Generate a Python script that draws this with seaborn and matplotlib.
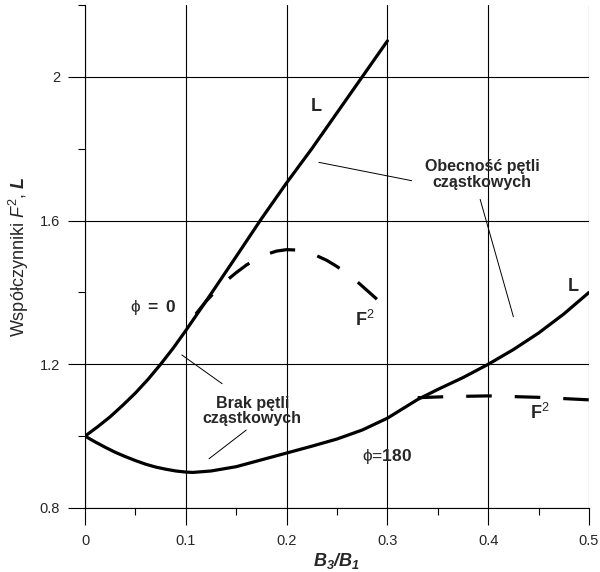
"""
Wspolczynniki F^2 i L w funkcji B3/B1 dla phi = 0 i phi = 180
"""

import numpy as np
import pandas as pd
import matplotlib.pyplot as plt
import seaborn as sns

# L, phi = 0
x_L0 = [0.0, 0.0125, 0.025, 0.0375, 0.05, 0.0625, 0.075, 0.0875, 0.1, 0.1125, 0.125,
        0.15, 0.175, 0.2, 0.225, 0.25, 0.275, 0.3]
y_L0 = [1.0, 1.026, 1.054, 1.086, 1.12, 1.158, 1.2, 1.245, 1.294, 1.345, 1.396,
        1.50, 1.605, 1.705, 1.80, 1.90, 2.0, 2.10]

# F^2, phi = 0
x_F0 = [0.11, 0.12, 0.13, 0.14, 0.15, 0.16, 0.17, 0.18, 0.19, 0.20, 0.21, 0.22, 0.23,
        0.24, 0.25, 0.26, 0.27, 0.28, 0.29, 0.30]
y_F0 = [1.34, 1.375, 1.405, 1.432, 1.455, 1.476, 1.493, 1.506, 1.515, 1.519, 1.518,
        1.512, 1.502, 1.489, 1.472, 1.452, 1.43, 1.405, 1.38, 1.36]

# L, phi = 180
x_L180 = [0.0, 0.01, 0.02, 0.03, 0.04, 0.05, 0.06, 0.07, 0.08, 0.09, 0.1, 0.107, 0.125,
          0.15, 0.175, 0.2, 0.225, 0.25, 0.275, 0.3, 0.315, 0.33, 0.35, 0.375, 0.4,
          0.425, 0.45, 0.475, 0.5]
y_L180 = [1.0, 0.984, 0.969, 0.955, 0.943, 0.932, 0.922, 0.914, 0.908, 0.903, 0.9, 0.899,
          0.903, 0.915, 0.934, 0.953, 0.972, 0.992, 1.017, 1.05, 1.076, 1.102, 1.13,
          1.163, 1.2, 1.241, 1.287, 1.34, 1.40]

# F^2, phi = 180
x_F180 = [0.33, 0.36, 0.4, 0.45, 0.5]
y_F180 = [1.107, 1.11, 1.112, 1.108, 1.101]

x_major = [0.0, 0.1, 0.2, 0.3, 0.4, 0.5]
x_labels = ['0', '0.1', '0.2', '0.3', '0.4', '0.5']
x_minor = [0.05, 0.15, 0.25, 0.35, 0.45]
y_major = [0.8, 1.2, 1.6, 2.0]
y_labels = ['0.8', '1.2', '1.6', '2']
y_minor = [1.0, 1.4, 1.8, 2.2]

sns.set_style('white')
plt.rcParams['font.family'] = ['Liberation Sans', 'DejaVu Sans']
plt.rcParams['mathtext.fontset'] = 'custom'
plt.rcParams['mathtext.rm'] = 'Liberation Sans'
plt.rcParams['mathtext.it'] = 'Liberation Sans:italic'
plt.rcParams['mathtext.bf'] = 'Liberation Sans:bold'
plt.rcParams['mathtext.bfit'] = 'Liberation Sans:bold:italic'

fig = plt.figure(figsize=(6, 5.72), dpi=100)
ax = fig.add_axes([0.1417, 0.1119, 0.84, 0.8794])

curves = [
    (x_L0, y_L0, '-'),
    (x_F0, y_F0, '--'),
    (x_L180, y_L180, '-'),
    (x_F180, y_F180, '--'),
]
for xs, ys, ls in curves:
    df = pd.DataFrame({'x': xs, 'y': ys})
    sns.lineplot(data=df, x='x', y='y', ax=ax, color='black', lw=2.3,
                 sort=False, estimator=None, zorder=3)
    if ls == '--':
        ax.lines[-1].set_dashes((8, 7.2))
    ax.lines[-1].set_solid_capstyle('round')
    ax.lines[-1].set_solid_joinstyle('round')

ax.set_xlim(0, 0.5)
ax.set_ylim(0.8, 2.2)
ax.set_xticks(x_major)
ax.set_xticklabels(x_labels)
ax.set_xticks(x_minor, minor=True)
ax.set_yticks(y_major)
ax.set_yticklabels(y_labels)
ax.set_yticks(y_minor, minor=True)
ax.tick_params(which='both', bottom=True, left=True, direction='out', width=0.8,
               color='black')
ax.tick_params(which='major', length=12, labelsize=10.5, pad=7)
ax.tick_params(which='minor', length=5)
ax.tick_params(axis='y', which='major', pad=6)
ax.grid(True, which='major', color='black', lw=0.8)
ax.spines['top'].set_visible(False)
ax.spines['right'].set_visible(False)
for s in ['left', 'bottom']:
    ax.spines[s].set_color('black')
    ax.spines[s].set_linewidth(0.8)

ax.set_xlabel(r'$\mathbfit{B}_{\mathbfit{3}}\mathbfit{/}\mathbfit{B}_{\mathbfit{1}}$',
              fontsize=13, labelpad=2)
ax.set_ylabel(r'Współczynniki $\mathit{F}^{2}$, $\mathbfit{L}$', fontsize=13, labelpad=6)

# opisy krzywych
ax.text(0.229, 1.918, 'L', fontsize=13, fontweight='bold', ha='center', va='center')
ax.text(0.484, 1.416, 'L', fontsize=13, fontweight='bold', ha='center', va='center')
ax.text(0.278, 1.324, r'$\mathbf{F}^{2}$', fontsize=13, ha='center', va='center')
ax.text(0.451, 1.065, r'$\mathbf{F}^{2}$', fontsize=13, ha='center', va='center')
ax.text(0.068, 1.357, r'ϕ $\mathbf{=\ 0}$', fontsize=12.5, ha='center', va='center')
ax.text(0.3, 0.942, r'ϕ=$\mathbf{180}$', fontsize=12.5, ha='center', va='center')

ax.text(0.394, 1.728, 'Obecność pętli\ncząstkowych', fontsize=11.5, fontweight='bold',
        ha='center', va='center', linespacing=1.05)
ax.text(0.166, 1.07, 'Brak pętli\ncząstkowych', fontsize=11.5, fontweight='bold',
        ha='center', va='center', linespacing=1.05)

# linie odniesienia
leaders = [
    ([0.232, 0.324], [1.762, 1.711]),
    ([0.392, 0.425], [1.659, 1.332]),
    ([0.096, 0.136], [1.226, 1.146]),
    ([0.160, 0.123], [1.017, 0.937]),
]
for lx, ly in leaders:
    ax.plot(lx, ly, color='black', lw=0.7)

fig.savefig('out.png', dpi=100)
